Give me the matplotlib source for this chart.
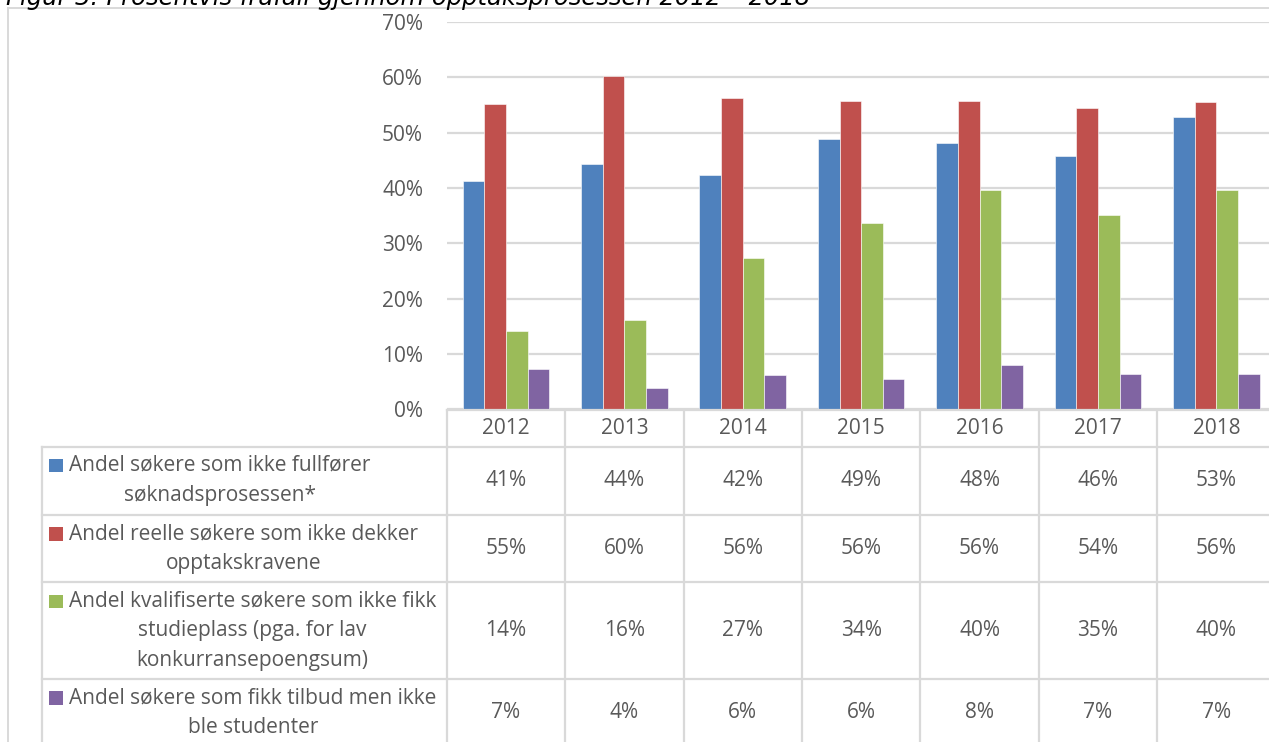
import matplotlib
matplotlib.use("Agg")
import matplotlib.pyplot as plt
from matplotlib.lines import Line2D
from matplotlib.patches import Rectangle
from matplotlib.transforms import blended_transform_factory

# ---------------- data ----------------
years = ["2012", "2013", "2014", "2015", "2016", "2017", "2018"]
series_names = [
    ["Andel søkere som ikke fullfører", "søknadsprosessen*"],
    ["Andel reelle søkere som ikke dekker", "opptakskravene"],
    ["Andel kvalifiserte søkere som ikke fikk", "studieplass (pga. for lav", "konkurransepoengsum)"],
    ["Andel søkere som fikk tilbud men ikke", "ble studenter"],
]
s_fullforer = [41.3, 44.3, 42.4, 48.9, 48.2, 45.8, 52.9]
s_dekker = [55.2, 60.3, 56.3, 55.7, 55.8, 54.4, 55.6]
s_studieplass = [14.1, 16.2, 27.4, 33.6, 39.7, 35.1, 39.6]
s_tilbud = [7.3, 3.9, 6.2, 5.4, 8.0, 6.4, 6.4]
series_values = [s_fullforer, s_dekker, s_studieplass, s_tilbud]
table_fullforer = ["41%", "44%", "42%", "49%", "48%", "46%", "53%"]
table_dekker = ["55%", "60%", "56%", "56%", "56%", "54%", "56%"]
table_studieplass = ["14%", "16%", "27%", "34%", "40%", "35%", "40%"]
table_tilbud = ["7%", "4%", "6%", "6%", "8%", "7%", "7%"]
table_text = [table_fullforer, table_dekker, table_studieplass, table_tilbud]
yticks = [0, 10, 20, 30, 40, 50, 60, 70]
title = "Figur 3: Prosentvis frafall gjennom opptaksprosessen 2012 – 2018"

colors = ["#4F81BD", "#C0504D", "#9BBB59", "#8064A2"]
grid_c = "#D9D9D9"
text_c = "#595959"
FONT = ["Open Sans", "DejaVu Sans"]
FS = 15

W, H = 1269, 742
fig = plt.figure(figsize=(W / 100, H / 100), dpi=100)

# pixel layout
ax_left, ax_right = 446.7, 1275.6
ax_top, ax_bot = 22.0, 409.3
ax = fig.add_axes([ax_left / W, 1 - ax_bot / H, (ax_right - ax_left) / W, (ax_bot - ax_top) / H])

# overlay in pixel coordinates
ov = fig.add_axes([0, 0, 1, 1], zorder=5)
ov.set_xlim(0, W)
ov.set_ylim(H, 0)
ov.axis("off")
ov.patch.set_alpha(0)

n = len(years)
bw = 0.1826
for i, (vals, c) in enumerate(zip(series_values, colors)):
    xs = [k + (i - 1.5) * bw for k in range(n)]
    ax.bar(xs, vals, width=bw, color=c, edgecolor="white", linewidth=0.4, zorder=3)

ax.set_xlim(-0.5, n - 0.5)
ax.set_ylim(0, 70)
ax.set_yticks(yticks)
ax.set_yticklabels([f"{t}%" for t in yticks], fontsize=FS, color=text_c, family=FONT)
ax.tick_params(axis="y", length=0, pad=17)
ax.set_xticks([])
ax.grid(axis="y", color=grid_c, linewidth=1.6, zorder=0)
for s in ax.spines.values():
    s.set_visible(False)

# ----- table -----
tr = blended_transform_factory(ax.transData, ov.transData)
row_bounds = [410.0, 446.7, 515.0, 582.3, 679.0, 747.0]
tab_left = 41.5
lw = 1.6

def hline(y, x0, x1, transform=ov.transData):
    ov.add_line(Line2D([x0, x1], [y, y], color=grid_c, lw=lw, transform=transform, clip_on=False))

def vline(x, y0, y1, transform=ov.transData):
    ov.add_line(Line2D([x, x], [y0, y1], color=grid_c, lw=lw, transform=transform, clip_on=False))

# top of header (axis line)
hline(row_bounds[0], -0.5, n - 0.5, transform=tr)
for yb in row_bounds[1:]:
    hline(yb, tab_left, ax_left)
    hline(yb, -0.5, n - 0.5, transform=tr)
vline(tab_left, row_bounds[1], row_bounds[-1])
for k in range(n + 1):
    vline(k - 0.5, row_bounds[0], row_bounds[-1], transform=tr)

# header years
for k, yr in enumerate(years):
    ov.text(k, (row_bounds[0] + row_bounds[1]) / 2 + 0.5, yr, transform=tr, ha="center", va="center",
            fontsize=FS, color=text_c, family=FONT)

# rows
for r in range(4):
    top, bot = row_bounds[r + 1], row_bounds[r + 2]
    mid = (top + bot) / 2
    for k, t in enumerate(table_text[r]):
        ov.text(k, mid, t, transform=tr, ha="center", va="center", fontsize=FS, color=text_c, family=FONT)
    lines = series_names[r]
    y1 = top + 18.7
    ov.add_patch(Rectangle((49.3, y1 - 6.5), 13.4, 13.4, color=colors[r], lw=0))
    t1 = ov.text(69, y1, lines[0], ha="left", va="center", fontsize=FS, color=text_c, family=FONT)
    fig.canvas.draw()
    bb = t1.get_window_extent()
    cx = (bb.x0 + bb.x1) / 2
    for j, ln in enumerate(lines[1:], start=1):
        ov.text(cx, y1 + 29.7 * j, ln, ha="center", va="center", fontsize=FS, color=text_c, family=FONT)

# chart outer border
ov.add_line(Line2D([8, 8], [8, H + 5], color=grid_c, lw=1.4, clip_on=False))
ov.add_line(Line2D([8, W + 5], [8, 8], color=grid_c, lw=1.4, clip_on=False))

# title (cropped at top)
ov.text(6, 5, title, ha="left", va="baseline", fontsize=17.5, style="italic", color="#000000",
        family=["DejaVu Sans"])

fig.savefig("out.png", dpi=100)
